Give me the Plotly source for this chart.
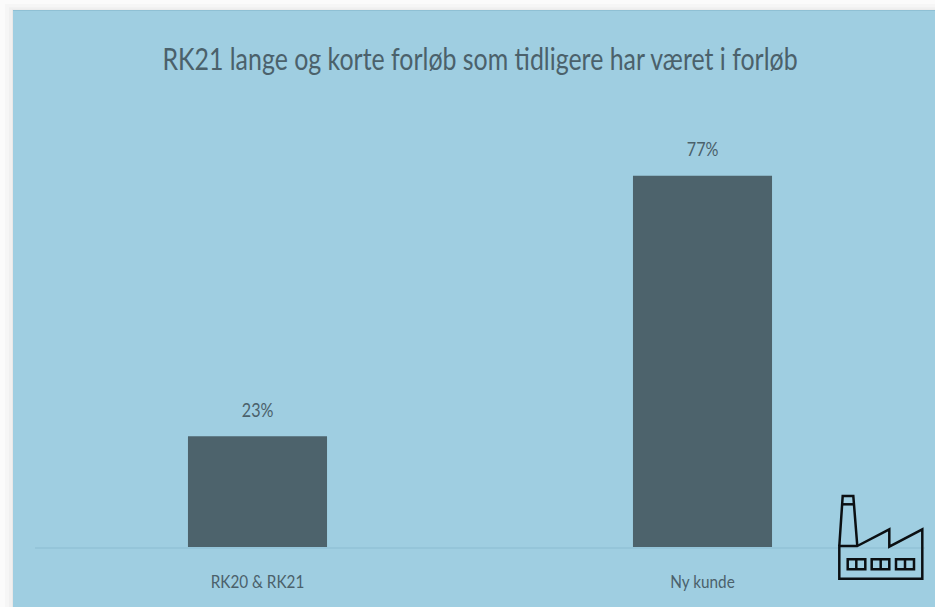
import plotly.graph_objects as go

categories = ["RK20 & RK21", "Ny kunde"]
values = [23, 77]
labels = ["23%", "77%"]
title_text = "RK21 lange og korte forløb som tidligere har været i forløb"

W, H = 935, 607
ML, MR, MT, MB = 35, 10, 65, 60
FONT = "Lato, sans-serif"
TEXT = "#4B616B"
BAR = "#4D636C"
PANEL = "#9FCEE1"
INK = "#0B0F12"


def px(x):
    return (x - ML) / (W - ML - MR)


def py(y):
    return (H - MB - y) / (H - MT - MB)


def path(points, close=False):
    d = "M " + " L ".join(f"{px(x):.5f},{py(y):.5f}" for x, y in points)
    return d + (" Z" if close else "")


fig = go.Figure(
    go.Bar(
        x=categories,
        y=values,
        width=0.3125,
        marker=dict(color=BAR, line=dict(width=0)),
        hoverinfo="skip",
    )
)

for cat, val, lab in zip(categories, values, labels):
    fig.add_annotation(x=cat, y=val, text=lab, showarrow=False, yanchor="middle", yshift=27,
                       font=dict(family=FONT, size=19, color=TEXT))

shapes = []
# soft page shadow around the panel
for inset, colour in [(0, "#FBFBFB"), (5, "#F6F6F6"), (9, "#F0F0F0"), (12, "#E8E8E8")]:
    shapes.append(dict(type="rect", xref="paper", yref="paper", layer="below",
                       x0=px(inset), x1=px(W), y0=py(H), y1=py(inset * 0.8),
                       line=dict(width=0), fillcolor=colour))
# panel
shapes.append(dict(type="rect", xref="paper", yref="paper", layer="below",
                   x0=px(13), x1=px(W), y0=py(H), y1=py(10),
                   line=dict(width=0), fillcolor=PANEL))
shapes.append(dict(type="line", xref="paper", yref="paper", layer="below",
                   x0=px(13), x1=px(W), y0=py(10.5), y1=py(10.5),
                   line=dict(width=1, color="#8FC0D4")))

# factory icon
icon = [
    ([(839.3, 546), (842.7, 496), (853.3, 496), (857.3, 546)], False),
    ([(841.5, 504.3), (854.5, 504.3)], False),
    ([(857.3, 546), (889.3, 529.3), (889.3, 546.7), (922.3, 529.3),
      (922.3, 578.7), (839.3, 578.7), (839.3, 546)], True),
]
for left, right, mid in [(847.7, 865.3, 856.3), (871.7, 889.3, 880.7), (896, 914, 905)]:
    icon.append(([(left, 559.3), (right, 559.3), (right, 569.3), (left, 569.3)], True))
    icon.append(([(mid, 559.3), (mid, 569.3)], False))
for pts, closed in icon:
    shapes.append(dict(type="path", xref="paper", yref="paper", layer="above",
                       path=path(pts, closed), line=dict(width=2.5, color=INK)))

fig.update_layout(
    width=W,
    height=H,
    autosize=False,
    paper_bgcolor="white",
    plot_bgcolor="rgba(0,0,0,0)",
    margin=dict(l=ML, r=MR, t=MT, b=MB, pad=0),
    showlegend=False,
    title=dict(text=title_text, x=480 / W, xanchor="center", y=1 - 59 / H, yanchor="middle",
               font=dict(family=FONT, size=30, color=TEXT)),
    font=dict(family=FONT, color=TEXT),
    xaxis=dict(
        type="category",
        showgrid=False,
        showline=True,
        linecolor="#95C5D9",
        linewidth=2,
        ticks="",
        ticklabelstandoff=17,
        tickfont=dict(family=FONT, size=18, color=TEXT),
    ),
    yaxis=dict(range=[0, 100], visible=False, showgrid=False, zeroline=False),
    shapes=shapes,
)

# The reference's typeface is narrower than Lato: condense the real text elements.
POST = """
document.body.style.margin='0';
document.body.style.overflow='hidden';
function squeeze(){
  var nodes=document.querySelectorAll('.gtitle, .xtick text, .annotation-text');
  nodes.forEach(function(n){
    if(n.dataset.sq){return;}
    n.dataset.sq='1';
    var k=n.classList.contains('gtitle')?0.83:0.85;
    n.setAttribute('textLength', n.getComputedTextLength()*k);
    n.setAttribute('lengthAdjust','spacingAndGlyphs');
  });
}
squeeze();
setTimeout(squeeze,50);
"""

fig.write_html("out.html", config={"displayModeBar": False}, post_script=POST)
